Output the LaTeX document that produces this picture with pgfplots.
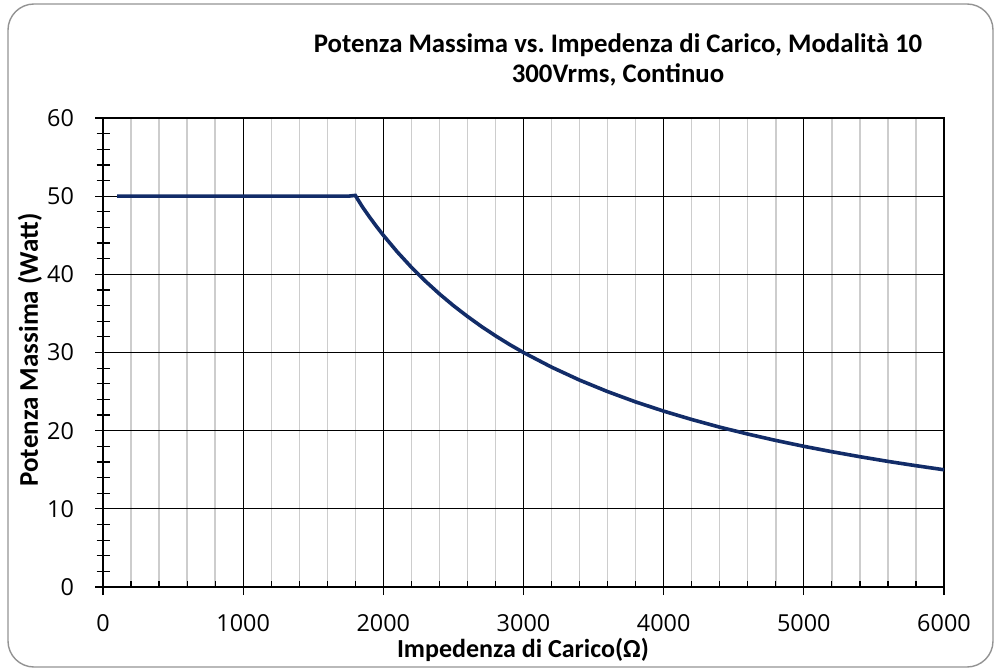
\documentclass[border=0pt]{standalone}
\usepackage{fontspec}
\setmainfont{Carlito}
\newfontfamily\tickfont{Open Sans}
\usepackage{pgfplots}
\pgfplotsset{compat=1.18}
\definecolor{curve}{RGB}{18,44,104}
\definecolor{mgrid}{RGB}{205,205,205}
\pgfplotsset{base/.style={
  at={(51.5pt,41.5pt)}, anchor=origin,
  scale only axis, width=420.5pt, height=234.5pt,
  xmin=0, xmax=6000, ymin=0, ymax=60,
  axis line style={black, line width=0.6pt},
  xtick pos=left, ytick pos=left,
  clip=false,
}}
\begin{document}
\begin{tikzpicture}
\path[use as bounding box] (0,0) rectangle (500pt,335pt);
\draw[color=gray!85, line width=0.7pt, rounded corners=13pt] (4pt,1.5pt) rectangle (496.5pt,333pt);
% minor x ticks and grid
\begin{axis}[base,
  xtick={200,400,600,800,1200,1400,1600,1800,2200,2400,2600,2800,3200,3400,3600,3800,4200,4400,4600,4800,5200,5400,5600,5800},
  xticklabels={}, ytick=\empty,
  xmajorgrids, major grid style={mgrid, line width=0.7pt},
  tick align=inside, major tick length=3.2pt,
  major tick style={black, line width=0.6pt},
]
\end{axis}
% minor y ticks
\begin{axis}[base,
  ytick={2,4,6,8,12,14,16,18,22,24,26,28,32,34,36,38,42,44,46,48,52,54,56,58},
  yticklabels={}, xtick=\empty,
  tick align=center, major tick length=6.5pt,
  major tick style={black, line width=0.6pt},
]
\end{axis}
% major ticks, grid, data
\begin{axis}[base,
  xtick={0,1000,...,6000}, ytick={0,10,...,60},
  xmajorgrids, ymajorgrids,
  major grid style={black, line width=0.6pt},
  tick align=outside, major tick length=4pt,
  major tick style={black, line width=0.6pt},
  /pgf/number format/assume math mode=true,
  /pgf/number format/1000 sep={},
  ticklabel style={font=\tickfont\fontsize{11.7}{14}\selectfont},
  xticklabel style={yshift=-6pt},
  yticklabel style={xshift=-7pt},
]
\addplot[curve, line width=1.8pt] coordinates {
(100,50) (200,50) (400,50) (600,50) (800,50) (1000,50) (1200,50) (1400,50) (1600,50) (1750,50) (1800,50.1)
(1850,48.65) (1900,47.37) (1950,46.15) (2000,45) (2100,42.86) (2200,40.91) (2300,39.13) (2400,37.5) (2500,36)
(2600,34.62) (2700,33.33) (2800,32.14) (2900,31.03) (3000,30) (3200,28.13) (3400,26.47) (3600,25)
(3800,23.68) (4000,22.5) (4200,21.43) (4400,20.45) (4600,19.57) (4800,18.75) (5000,18) (5200,17.31)
(5400,16.67) (5600,16.07) (5800,15.52) (6000,15)
};
\end{axis}
\node[font=\bfseries\fontsize{13.4}{15}\selectfont, align=center] at (309pt,305pt) {Potenza Massima vs.\ Impedenza di Carico, Modalità 10\\300Vrms, Continuo};
\node[font=\bfseries\fontsize{13}{15}\selectfont] at (261.5pt,10pt) {Impedenza di Carico(Ω)};
\node[font=\bfseries\fontsize{13.5}{15}\selectfont, rotate=90] at (15pt,160pt) {Potenza Massima (Watt)};
\end{tikzpicture}
\end{document}
